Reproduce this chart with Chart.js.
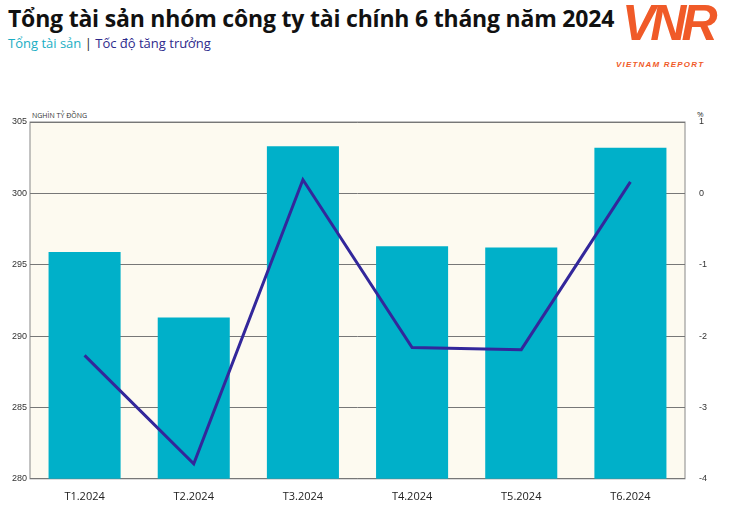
<!DOCTYPE html>
<html><head><meta charset="utf-8">
<script src="https://cdn.jsdelivr.net/npm/chart.js@4"></script>
<style>
body{margin:0;background:#fff;font-family:"Open Sans",sans-serif;width:730px;height:514px;overflow:hidden;position:relative}
#title{position:absolute;left:8px;top:2px;font-size:23px;font-weight:700;color:#111;letter-spacing:-0.2px}
#sub{position:absolute;left:8px;top:34px;font-size:13px}
#logo{position:absolute;left:622px;top:-6px;color:#f05a28;font:italic 700 50px "Liberation Sans";letter-spacing:-5px}
#logo2{position:absolute;left:616px;top:60px;color:#f05a28;font:italic 700 8px "Liberation Sans";letter-spacing:1.2px}
#unitL{position:absolute;left:32px;top:111px;font-size:7px;color:#333}
#unitR{position:absolute;left:697px;top:108px;font-size:8px;color:#333}
#wrap{position:absolute;left:0;top:110px;width:730px;height:396px}
</style></head><body>
<div id="title">Tổng tài sản nhóm công ty tài chính 6 tháng năm 2024</div>
<div id="sub"><span style="color:#1aaec4">Tổng tài sản</span> <span style="color:#222">|</span> <span style="color:#2e2a8c">Tốc độ tăng trưởng</span></div>
<div id="logo">VNR</div>
<div id="logo2">VIETNAM REPORT</div>
<div id="unitL">NGHÌN TỶ ĐỒNG</div>
<div id="unitR">%</div>
<div id="wrap"><canvas id="c"></canvas></div>
<script>
const categories = ['T1.2024','T2.2024','T3.2024','T4.2024','T5.2024','T6.2024'];
const totalAssets = [295.9, 291.3, 303.3, 296.3, 296.2, 303.2];
const growth = [-2.27, -3.79, 0.19, -2.16, -2.19, 0.16];

const bgPlugin = {
  id: 'bg',
  beforeDraw(chart) {
    const a = chart.chartArea, ctx = chart.ctx;
    ctx.save();
    ctx.fillStyle = '#fdfaf0';
    ctx.fillRect(a.left, a.top, a.right - a.left, a.bottom - a.top);
    ctx.strokeStyle = '#888'; ctx.lineWidth = 1;
    ctx.strokeRect(a.left, a.top, a.right - a.left, a.bottom - a.top);
    ctx.restore();
  }
};

new Chart(document.getElementById('c'), {
  data: {
    labels: categories,
    datasets: [
      { type: 'line', data: growth, yAxisID: 'y1', borderColor: '#33279b', borderWidth: 3, pointRadius: 0, tension: 0, order: 0 },
      { type: 'bar', data: totalAssets, yAxisID: 'y', backgroundColor: '#00b0c9', categoryPercentage: 1, barPercentage: 0.66, order: 1 }
    ]
  },
  options: {
    responsive: true, maintainAspectRatio: false, animation: false,
    layout: { padding: { left: 0, right: 0, top: 12, bottom: 0 } },
    plugins: { legend: { display: false }, tooltip: { enabled: false } },
    scales: {
      x: { grid: { display: false }, border: { display: false },
           ticks: { color: '#222', font: { size: 11, family: 'Open Sans' } } },
      y: { min: 280, max: 305, afterFit(s) { s.width = 30; },
           ticks: { stepSize: 5, color: '#333', font: { size: 9 } },
           grid: { color: '#777', drawTicks: false }, border: { display: false } },
      y1: { position: 'right', min: -4, max: 1, afterFit(s) { s.width = 45; },
            ticks: { stepSize: 1, color: '#333', font: { size: 9 }, padding: 6 },
            grid: { display: false }, border: { display: false } }
    }
  },
  plugins: [bgPlugin]
});
</script>
</body></html>
